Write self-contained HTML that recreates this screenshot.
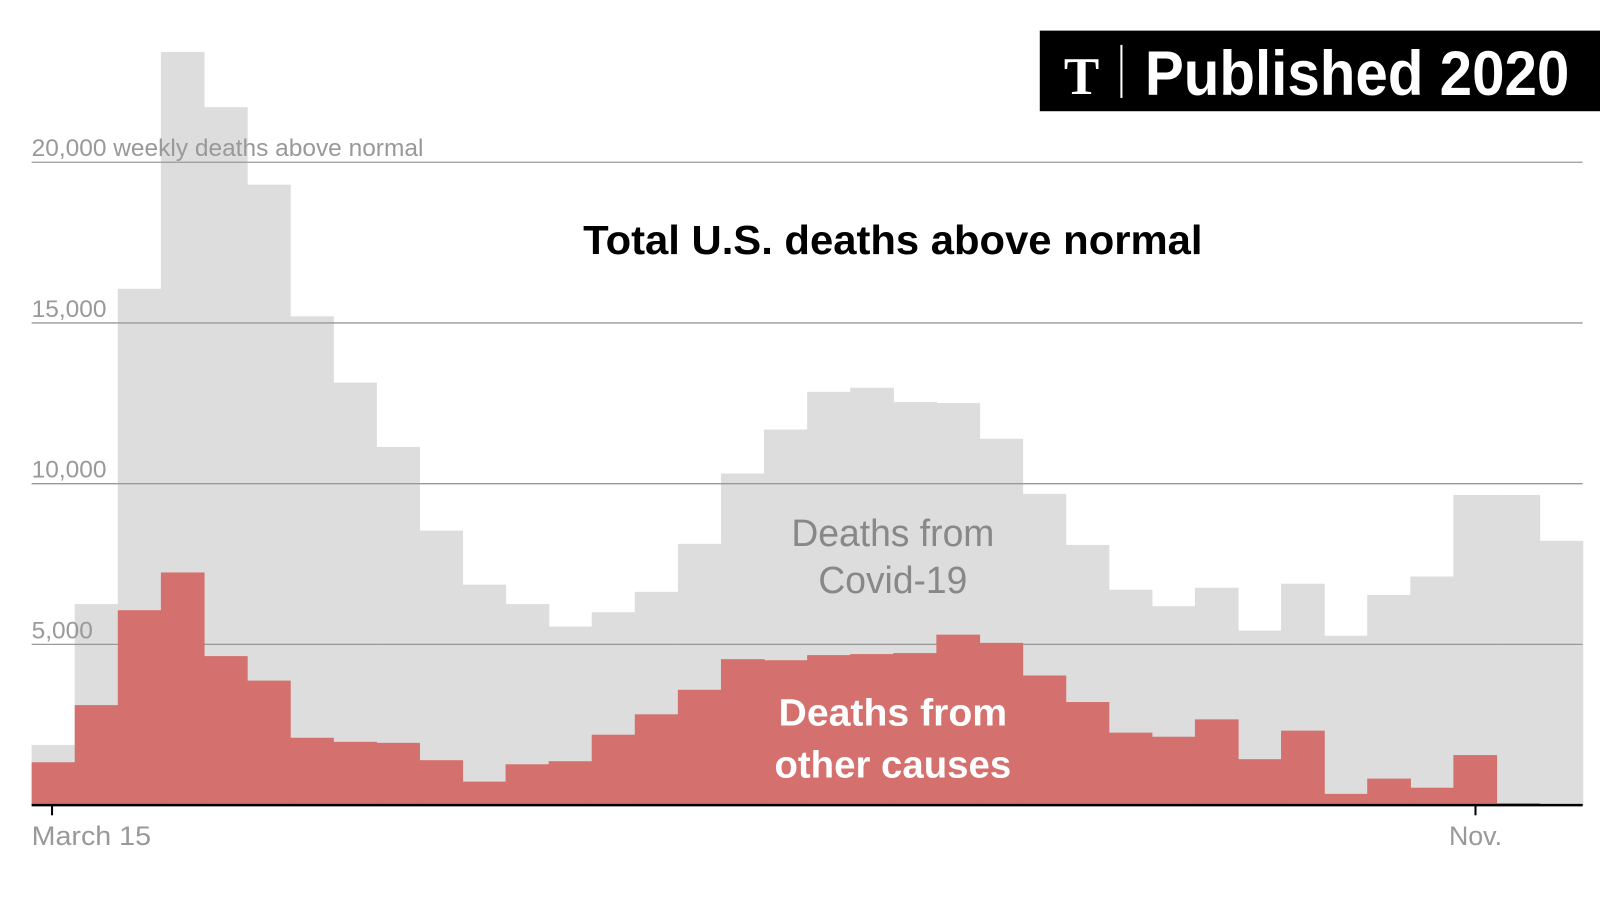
<!DOCTYPE html>
<html><head><meta charset="utf-8"><style>
html,body{margin:0;padding:0;background:#fff;}
svg{display:block;font-family:"Liberation Sans",sans-serif;}
</style></head><body>
<svg id="chart" width="1600" height="901" viewBox="0 0 1600 901">
<g transform="scale(1.0204)">
<g id="gray"></g>
<g id="grid"></g>
<g id="red"></g>
<g id="labels"></g>
<line x1="31" y1="789" x2="1551" y2="789" stroke="#000" stroke-width="2.5"/>
<line x1="51" y1="789" x2="51" y2="799" stroke="#000" stroke-width="2"/>
<line x1="1446" y1="789" x2="1446" y2="799" stroke="#000" stroke-width="2"/>
<text x="31" y="828" font-size="26" fill="#999" textLength="117" lengthAdjust="spacingAndGlyphs">March 15</text>
<text x="1446" y="828" font-size="26" fill="#999" text-anchor="middle" textLength="52" lengthAdjust="spacingAndGlyphs">Nov.</text>
<text x="875" y="249" font-size="40" font-weight="bold" fill="#000" text-anchor="middle" textLength="607" lengthAdjust="spacingAndGlyphs">Total U.S. deaths above normal</text>
<text x="875" y="535" font-size="37" fill="#888" text-anchor="middle" textLength="199" lengthAdjust="spacingAndGlyphs">Deaths from</text>
<text x="875" y="581" font-size="37" fill="#888" text-anchor="middle" textLength="146" lengthAdjust="spacingAndGlyphs">Covid-19</text>
<text x="875" y="711" font-size="37" font-weight="bold" fill="#fff" text-anchor="middle" textLength="224" lengthAdjust="spacingAndGlyphs">Deaths from</text>
<text x="875" y="762" font-size="37" font-weight="bold" fill="#fff" text-anchor="middle" textLength="232" lengthAdjust="spacingAndGlyphs">other causes</text>
<g>
<rect x="1019" y="30" width="560" height="79" fill="#000"/>
<text x="1060" y="92" font-size="52" font-weight="bold" fill="#fff" font-family="Liberation Serif,serif" text-anchor="middle">T</text>
<line x1="1099" y1="44" x2="1099" y2="96" stroke="#fff" stroke-width="2"/>
<text x="1122" y="93" font-size="62" font-weight="bold" fill="#fff" textLength="416" lengthAdjust="spacingAndGlyphs">Published 2020</text>
</g>
</g>
</svg>
<script>
const totalDeaths=[1873,6254,16063,23429,21714,19302,15206,13143,11143,8540,6857,6254,5556,6000,6635,8127,10317,11683,12857,12984,12540,12508,11397,9683,8095,6698,6190,6762,5429,6889,5270,6540,7111,9651,9651,8222];
const otherDeaths=[1333,3111,6063,7238,4635,3873,2095,1968,1937,1397,730,1270,1365,2190,2825,3587,4540,4508,4667,4698,4730,5302,5048,4032,3206,2254,2127,2667,1429,2317,349,825,540,1556,60,30];
const yTicks=[5000,10000,15000,20000];
const yTickLabels=["5,000","10,000","15,000","20,000 weekly deaths above normal"];
const NS="http://www.w3.org/2000/svg";
const x0=31,x1=1551,y0=789,pxPer=157.5/5000;
const n=totalDeaths.length,bw=(x1-x0)/n;
const xs=i=>x0+i*bw;
const ys=v=>y0-v*pxPer;
function bar(i,v,fill){
 const r=document.createElementNS(NS,'rect');
 r.setAttribute('x',xs(i));r.setAttribute('width',bw+0.6);
 r.setAttribute('y',ys(v));r.setAttribute('height',y0-ys(v));
 r.setAttribute('fill',fill);
 return r;
}
const gG=document.getElementById('gray'),gR=document.getElementById('red'),gGrid=document.getElementById('grid'),gL=document.getElementById('labels');
totalDeaths.forEach((v,i)=>{const r=bar(i,v,'#dddddd');


gG.appendChild(r);});
otherDeaths.forEach((v,i)=>{const r=bar(i,v,'#d4706d');


gR.appendChild(r);});
yTicks.forEach((t,k)=>{
 const l=document.createElementNS(NS,'line');
 l.setAttribute('x1',x0);l.setAttribute('x2',x1);l.setAttribute('y1',ys(t));l.setAttribute('y2',ys(t));
 l.setAttribute('stroke','#999');l.setAttribute('stroke-width','1.3');
 
 
 gGrid.appendChild(l);
 const tx=document.createElementNS(NS,'text');
 tx.setAttribute('x',x0);tx.setAttribute('y',ys(t)-6);
 tx.setAttribute('font-size','24');tx.setAttribute('fill','#999');
 tx.textContent=yTickLabels[k];
 
 
 gL.appendChild(tx);
});
</script>
</body></html>
